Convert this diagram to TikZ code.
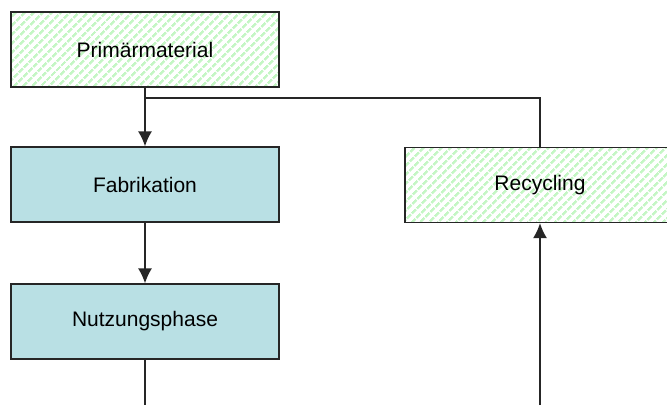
\documentclass[tikz,border=0pt]{standalone}
\usepackage{fontspec}
\setmainfont{Liberation Sans}
\usetikzlibrary{arrows.meta, patterns.meta}

\definecolor{boxblue}{RGB}{185,224,228}
\definecolor{hatchgreen}{RGB}{196,246,196}

\tikzset{
  stage/.style={draw=black!85, line width=1.3pt, fill=boxblue, minimum width=268pt, minimum height=75pt, font=\fontsize{21}{24}\selectfont},
  hatched/.style={stage, pattern={Lines[angle=45, distance=6.4pt, line width=2.8pt]}, pattern color=hatchgreen, preaction={fill=white}},
  flow/.style={draw=black!85, line width=1.4pt}
}

\begin{document}
\begin{tikzpicture}[>={Latex[length=15pt,width=14pt]}, x=1pt, y=1pt]

\useasboundingbox (0,0) rectangle (667,-405);
\clip (0,0) rectangle (667,-405);

\node[hatched] (prim) at (145,-49.5) {Primärmaterial};
\node[stage] (fab) at (145,-184.5) {Fabrikation};
\node[stage] (nutz) at (145,-321.5) {Nutzungsphase};
\node[hatched, minimum width=270pt] (recyc) at (540,-185) {Recycling};

\coordinate (split) at (145,-98);
\coordinate (turn) at (540,-98);
\coordinate (nutzend) at (145,-405);
\coordinate (recycstart) at (540,-405);

\draw[flow] (prim.south) -- (split) -- (turn) -- (recyc.north);
\draw[flow, ->] (split) -- (fab.north);
\draw[flow, ->] (fab.south) -- (nutz.north);
\draw[flow] (nutz.south) -- (nutzend);
\draw[flow, ->] (recycstart) -- (recyc.south);

\end{tikzpicture}
\end{document}
